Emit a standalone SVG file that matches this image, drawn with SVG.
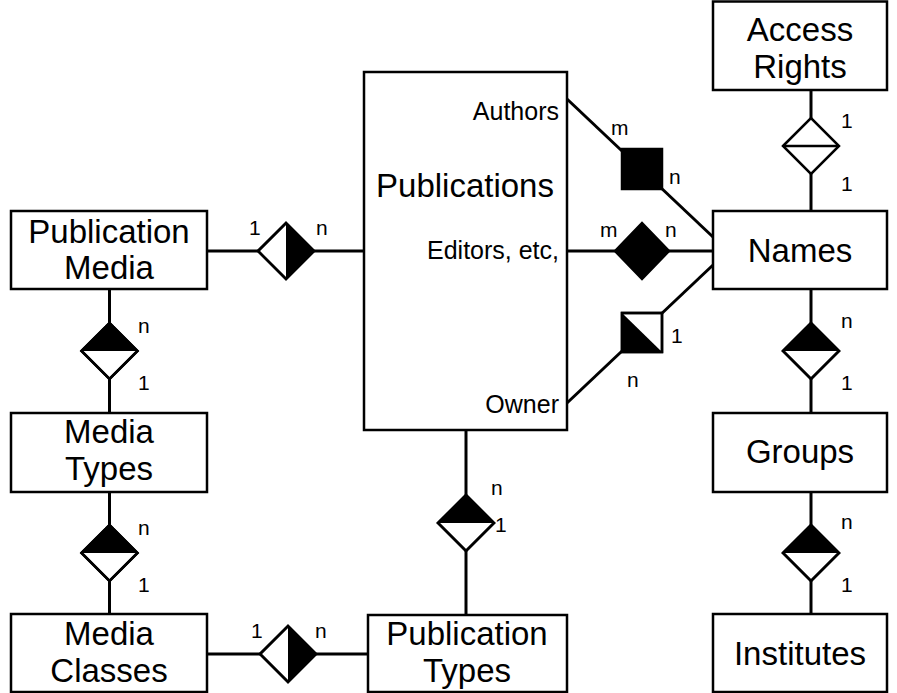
<svg xmlns="http://www.w3.org/2000/svg" width="897" height="693" viewBox="0 0 897 693">
<style>
.box{fill:#fff;stroke:#000;stroke-width:2.5}
.ln{fill:none;stroke:#000;stroke-width:3}
.dw{fill:#fff;stroke:#000;stroke-width:2.5;stroke-linejoin:miter}
.blk{fill:#000;stroke:none}
.t{font-family:"Liberation Sans",Arial,sans-serif;font-size:33px;fill:#000;text-anchor:middle}
.s{font-family:"Liberation Sans",Arial,sans-serif;font-size:25px;fill:#000;text-anchor:end}
.c{font-family:"Liberation Sans",Arial,sans-serif;font-size:21px;fill:#000}
</style>
<rect width="897" height="693" fill="#fff"/>
<g id="connectors">
<line class="ln" x1="207" y1="251" x2="364" y2="251"/>
<line class="ln" x1="109.5" y1="289" x2="109.5" y2="413"/>
<line class="ln" x1="109.5" y1="492" x2="109.5" y2="614"/>
<line class="ln" x1="207" y1="654" x2="368" y2="654"/>
<line class="ln" x1="466" y1="430" x2="466" y2="615"/>
<line class="ln" x1="811" y1="90" x2="811" y2="211"/>
<line class="ln" x1="811" y1="289" x2="811" y2="413"/>
<line class="ln" x1="811" y1="492" x2="811" y2="614"/>
<line class="ln" x1="567" y1="99" x2="713" y2="237"/>
<line class="ln" x1="567" y1="251" x2="713" y2="251"/>
<line class="ln" x1="567" y1="403" x2="713" y2="265"/>
</g>
<g id="rel-pubmedia-pub">
<polygon class="dw" points="258,251 286,223 314,251 286,279"/>
<polygon class="blk" points="286,223 314,251 286,279"/>
<polygon points="258,251 286,223 314,251 286,279" fill="none" stroke="#000" stroke-width="2.5"/>
<text class="c" x="249" y="235">1</text>
<text class="c" x="316" y="235">n</text>
</g>
<g id="rel-pubmedia-mediatypes">
<polygon class="dw" points="81.5,351 109.5,323 137.5,351 109.5,379"/>
<polygon class="blk" points="81.5,351 109.5,323 137.5,351"/>
<polygon points="81.5,351 109.5,323 137.5,351 109.5,379" fill="none" stroke="#000" stroke-width="2.5"/>
<text class="c" x="138" y="333">n</text>
<text class="c" x="138" y="390">1</text>
</g>
<g id="rel-mediatypes-mediaclasses">
<polygon class="dw" points="81.5,553 109.5,525 137.5,553 109.5,581"/>
<polygon class="blk" points="81.5,553 109.5,525 137.5,553"/>
<polygon points="81.5,553 109.5,525 137.5,553 109.5,581" fill="none" stroke="#000" stroke-width="2.5"/>
<text class="c" x="138" y="535">n</text>
<text class="c" x="138" y="592">1</text>
</g>
<g id="rel-mediaclasses-pubtypes">
<polygon class="dw" points="260,654 288,626 316,654 288,682"/>
<polygon class="blk" points="288,626 316,654 288,682"/>
<polygon points="260,654 288,626 316,654 288,682" fill="none" stroke="#000" stroke-width="2.5"/>
<text class="c" x="251" y="638">1</text>
<text class="c" x="315" y="638">n</text>
</g>
<g id="rel-pub-pubtypes">
<polygon class="dw" points="438,523 466,495 494,523 466,551"/>
<polygon class="blk" points="438,523 466,495 494,523"/>
<polygon points="438,523 466,495 494,523 466,551" fill="none" stroke="#000" stroke-width="2.5"/>
<text class="c" x="491" y="495">n</text>
<text class="c" x="495" y="532">1</text>
</g>
<g id="rel-authors">
<rect x="622" y="149" width="40" height="40" fill="#000" stroke="#000" stroke-width="2.5"/>
<text class="c" x="611" y="135">m</text>
<text class="c" x="669" y="184">n</text>
</g>
<g id="rel-editors">
<polygon points="615,251 642,223 669,251 642,279" fill="#000" stroke="#000" stroke-width="2.5"/>
<text class="c" x="600" y="237">m</text>
<text class="c" x="665" y="237">n</text>
</g>
<g id="rel-owner">
<rect x="622" y="313" width="40" height="39" fill="#fff" stroke="#000" stroke-width="2.5"/>
<polygon class="blk" points="622,313 622,352 662,352"/>
<rect x="622" y="313" width="40" height="39" fill="none" stroke="#000" stroke-width="2.5"/>
<text class="c" x="671" y="343">1</text>
<text class="c" x="627" y="387">n</text>
</g>
<g id="rel-access-names">
<polygon class="dw" points="783,146 811,118 839,146 811,174"/>
<line x1="783" y1="146" x2="839" y2="146" stroke="#000" stroke-width="2.5"/>
<text class="c" x="841" y="128">1</text>
<text class="c" x="841" y="191">1</text>
</g>
<g id="rel-names-groups">
<polygon class="dw" points="783,351 811,323 839,351 811,379"/>
<polygon class="blk" points="783,351 811,323 839,351"/>
<polygon points="783,351 811,323 839,351 811,379" fill="none" stroke="#000" stroke-width="2.5"/>
<text class="c" x="841" y="328">n</text>
<text class="c" x="841" y="390">1</text>
</g>
<g id="rel-groups-institutes">
<polygon class="dw" points="783,553 811,525 839,553 811,581"/>
<polygon class="blk" points="783,553 811,525 839,553"/>
<polygon points="783,553 811,525 839,553 811,581" fill="none" stroke="#000" stroke-width="2.5"/>
<text class="c" x="841" y="529">n</text>
<text class="c" x="841" y="592">1</text>
</g>
<g id="publications">
<rect class="box" x="364" y="72" width="203" height="358"/>
<text class="t" x="465" y="197">Publications</text>
<text class="s" x="559" y="120">Authors</text>
<text class="s" x="559" y="259">Editors, etc,</text>
<text class="s" x="559" y="413">Owner</text>
</g>
<g id="publication-media">
<rect class="box" x="11" y="211" width="196" height="78"/>
<text class="t" x="109" y="243">Publication</text>
<text class="t" x="109" y="279">Media</text>
</g>
<g id="media-types">
<rect class="box" x="11" y="413" width="196" height="79"/>
<text class="t" x="109" y="443">Media</text>
<text class="t" x="109" y="480">Types</text>
</g>
<g id="media-classes">
<rect class="box" x="11" y="614" width="196" height="78"/>
<text class="t" x="109" y="645">Media</text>
<text class="t" x="109" y="682">Classes</text>
</g>
<g id="publication-types">
<rect class="box" x="368" y="615" width="199" height="77"/>
<text class="t" x="467" y="645">Publication</text>
<text class="t" x="467" y="682">Types</text>
</g>
<g id="access-rights">
<rect class="box" x="713" y="1.5" width="174" height="88.5"/>
<text class="t" x="800" y="41">Access</text>
<text class="t" x="800" y="78">Rights</text>
</g>
<g id="names">
<rect class="box" x="713" y="211" width="174" height="78"/>
<text class="t" x="800" y="262">Names</text>
</g>
<g id="groups">
<rect class="box" x="713" y="413" width="174" height="79"/>
<text class="t" x="800" y="463">Groups</text>
</g>
<g id="institutes">
<rect class="box" x="713" y="614" width="174" height="78"/>
<text class="t" x="800" y="665">Institutes</text>
</g>
</svg>
